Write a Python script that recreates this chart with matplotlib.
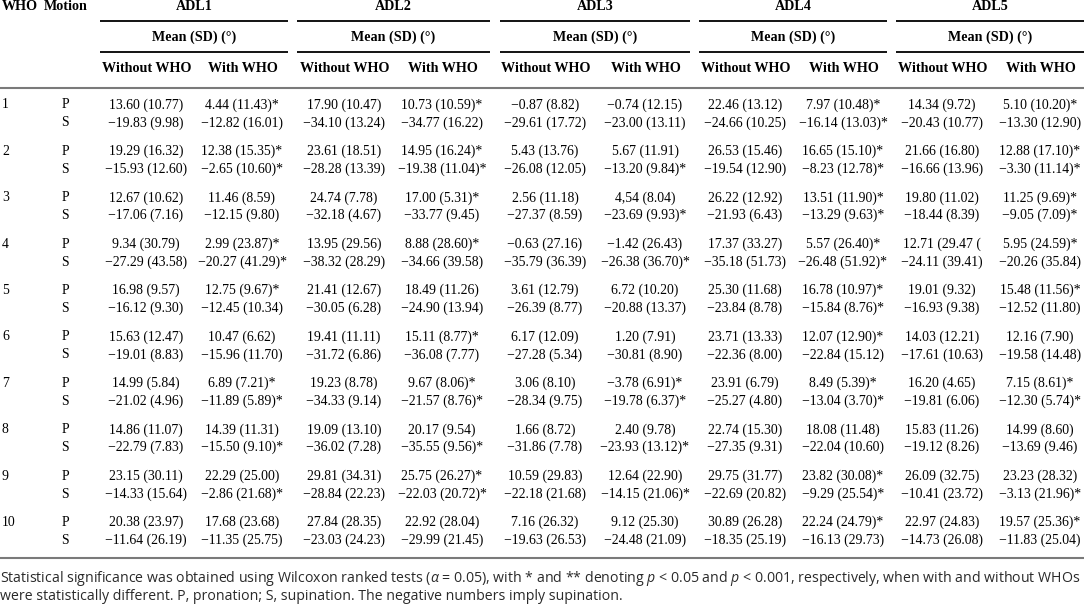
import matplotlib.pyplot as plt

plt.rcParams['mathtext.fontset'] = 'custom'
plt.rcParams['mathtext.rm'] = 'Open Sans'
plt.rcParams['mathtext.it'] = 'Open Sans:italic'

# table data: per ADL, each row = (P without, P with, S without, S with)
who = [str(i) for i in range(1, 11)]
adl_names = ["ADL1", "ADL2", "ADL3", "ADL4", "ADL5"]

adl1 = [
    ("13.60 (10.77)", "4.44 (11.43)*", "\u221219.83 (9.98)", "\u221212.82 (16.01)"),
    ("19.29 (16.32)", "12.38 (15.35)*", "\u221215.93 (12.60)", "\u22122.65 (10.60)*"),
    ("12.67 (10.62)", "11.46 (8.59)", "\u221217.06 (7.16)", "\u221212.15 (9.80)"),
    ("9.34 (30.79)", "2.99 (23.87)*", "\u221227.29 (43.58)", "\u221220.27 (41.29)*"),
    ("16.98 (9.57)", "12.75 (9.67)*", "\u221216.12 (9.30)", "\u221212.45 (10.34)"),
    ("15.63 (12.47)", "10.47 (6.62)", "\u221219.01 (8.83)", "\u221215.96 (11.70)"),
    ("14.99 (5.84)", "6.89 (7.21)*", "\u221221.02 (4.96)", "\u221211.89 (5.89)*"),
    ("14.86 (11.07)", "14.39 (11.31)", "\u221222.79 (7.83)", "\u221215.50 (9.10)*"),
    ("23.15 (30.11)", "22.29 (25.00)", "\u221214.33 (15.64)", "\u22122.86 (21.68)*"),
    ("20.38 (23.97)", "17.68 (23.68)", "\u221211.64 (26.19)", "\u221211.35 (25.75)"),
]
adl2 = [
    ("17.90 (10.47)", "10.73 (10.59)*", "\u221234.10 (13.24)", "\u221234.77 (16.22)"),
    ("23.61 (18.51)", "14.95 (16.24)*", "\u221228.28 (13.39)", "\u221219.38 (11.04)*"),
    ("24.74 (7.78)", "17.00 (5.31)*", "\u221232.18 (4.67)", "\u221233.77 (9.45)"),
    ("13.95 (29.56)", "8.88 (28.60)*", "\u221238.32 (28.29)", "\u221234.66 (39.58)"),
    ("21.41 (12.67)", "18.49 (11.26)", "\u221230.05 (6.28)", "\u221224.90 (13.94)"),
    ("19.41 (11.11)", "15.11 (8.77)*", "\u221231.72 (6.86)", "\u221236.08 (7.77)"),
    ("19.23 (8.78)", "9.67 (8.06)*", "\u221234.33 (9.14)", "\u221221.57 (8.76)*"),
    ("19.09 (13.10)", "20.17 (9.54)", "\u221236.02 (7.28)", "\u221235.55 (9.56)*"),
    ("29.81 (34.31)", "25.75 (26.27)*", "\u221228.84 (22.23)", "\u221222.03 (20.72)*"),
    ("27.84 (28.35)", "22.92 (28.04)", "\u221223.03 (24.23)", "\u221229.99 (21.45)"),
]
adl3 = [
    ("\u22120.87 (8.82)", "\u22120.74 (12.15)", "\u221229.61 (17.72)", "\u221223.00 (13.11)"),
    ("5.43 (13.76)", "5.67 (11.91)", "\u221226.08 (12.05)", "\u221213.20 (9.84)*"),
    ("2.56 (11.18)", "4,54 (8.04)", "\u221227.37 (8.59)", "\u221223.69 (9.93)*"),
    ("\u22120.63 (27.16)", "\u22121.42 (26.43)", "\u221235.79 (36.39)", "\u221226.38 (36.70)*"),
    ("3.61 (12.79)", "6.72 (10.20)", "\u221226.39 (8.77)", "\u221220.88 (13.37)"),
    ("6.17 (12.09)", "1.20 (7.91)", "\u221227.28 (5.34)", "\u221230.81 (8.90)"),
    ("3.06 (8.10)", "\u22123.78 (6.91)*", "\u221228.34 (9.75)", "\u221219.78 (6.37)*"),
    ("1.66 (8.72)", "2.40 (9.78)", "\u221231.86 (7.78)", "\u221223.93 (13.12)*"),
    ("10.59 (29.83)", "12.64 (22.90)", "\u221222.18 (21.68)", "\u221214.15 (21.06)*"),
    ("7.16 (26.32)", "9.12 (25.30)", "\u221219.63 (26.53)", "\u221224.48 (21.09)"),
]
adl4 = [
    ("22.46 (13.12)", "7.97 (10.48)*", "\u221224.66 (10.25)", "\u221216.14 (13.03)*"),
    ("26.53 (15.46)", "16.65 (15.10)*", "\u221219.54 (12.90)", "\u22128.23 (12.78)*"),
    ("26.22 (12.92)", "13.51 (11.90)*", "\u221221.93 (6.43)", "\u221213.29 (9.63)*"),
    ("17.37 (33.27)", "5.57 (26.40)*", "\u221235.18 (51.73)", "\u221226.48 (51.92)*"),
    ("25.30 (11.68)", "16.78 (10.97)*", "\u221223.84 (8.78)", "\u221215.84 (8.76)*"),
    ("23.71 (13.33)", "12.07 (12.90)*", "\u221222.36 (8.00)", "\u221222.84 (15.12)"),
    ("23.91 (6.79)", "8.49 (5.39)*", "\u221225.27 (4.80)", "\u221213.04 (3.70)*"),
    ("22.74 (15.30)", "18.08 (11.48)", "\u221227.35 (9.31)", "\u221222.04 (10.60)"),
    ("29.75 (31.77)", "23.82 (30.08)*", "\u221222.69 (20.82)", "\u22129.29 (25.54)*"),
    ("30.89 (26.28)", "22.24 (24.79)*", "\u221218.35 (25.19)", "\u221216.13 (29.73)"),
]
adl5 = [
    ("14.34 (9.72)", "5.10 (10.20)*", "\u221220.43 (10.77)", "\u221213.30 (12.90)"),
    ("21.66 (16.80)", "12.88 (17.10)*", "\u221216.66 (13.96)", "\u22123.30 (11.14)*"),
    ("19.80 (11.02)", "11.25 (9.69)*", "\u221218.44 (8.39)", "\u22129.05 (7.09)*"),
    ("12.71 (29.47 (", "5.95 (24.59)*", "\u221224.11 (39.41)", "\u221220.26 (35.84)"),
    ("19.01 (9.32)", "15.48 (11.56)*", "\u221216.93 (9.38)", "\u221212.52 (11.80)"),
    ("14.03 (12.21)", "12.16 (7.90)", "\u221217.61 (10.63)", "\u221219.58 (14.48)"),
    ("16.20 (4.65)", "7.15 (8.61)*", "\u221219.81 (6.06)", "\u221212.30 (5.74)*"),
    ("15.83 (11.26)", "14.99 (8.60)", "\u221219.12 (8.26)", "\u221213.69 (9.46)"),
    ("26.09 (32.75)", "23.23 (28.32)", "\u221210.41 (23.72)", "\u22123.13 (21.96)*"),
    ("22.97 (24.83)", "19.57 (25.36)*", "\u221214.73 (26.08)", "\u221211.83 (25.04)"),
]
tables = [adl1, adl2, adl3, adl4, adl5]

footnote1 = ("Statistical significance was obtained using Wilcoxon ranked tests ($\\alpha$ = 0.05), "
             "with * and ** denoting $p$ < 0.05 and $p$ < 0.001, respectively, when with and without WHOs")
footnote2 = "were statistically different. P, pronation; S, supination. The negative numbers imply supination."

# layout in pixels
W, H = 1084, 610
col_x = [146, 242, 344, 442, 545, 645, 745, 843, 942, 1040]
grp_lines = [(100, 288), (297, 490), (500, 690), (699, 887), (896, 1084)]
row0 = 105
pitch = 46.4
sub = 17.8
serif = "Liberation Serif"
fs = 9.9
hfs = 10.2

fig = plt.figure(figsize=(W / 100, H / 100), dpi=100)
ax = fig.add_axes([0, 0, 1, 1])
ax.set_xlim(0, W)
ax.set_ylim(H, 0)
ax.axis("off")

def txt(x, y, s, ha="center", bold=False, size=fs):
    ax.text(x, y, s, ha=ha, va="center", fontsize=size, family=serif,
            fontweight="bold" if bold else "normal", color="black")

txt(2, 7, "WHO", ha="left", bold=True, size=hfs)
txt(44, 7, "Motion", ha="left", bold=True, size=hfs)

for g, name in enumerate(adl_names):
    x0, x1 = grp_lines[g]
    cx = (x0 + x1) / 2
    txt(cx, 7, name, bold=True, size=hfs)
    ax.plot([x0, x1], [21, 21], color="black", lw=1.3, solid_capstyle="butt")
    txt(cx, 37, "Mean (SD) (\u00b0)", bold=True, size=hfs)
    ax.plot([x0, x1], [52, 52], color="black", lw=1.3, solid_capstyle="butt")
    txt(col_x[2 * g] + 1, 69, "Without WHO", bold=True, size=hfs)
    txt(col_x[2 * g + 1] + 1, 69, "With WHO", bold=True, size=hfs)

ax.plot([0, W], [88, 88], color="#7a7a7a", lw=1.5)
ax.plot([0, W], [558, 558], color="#7a7a7a", lw=1.5)

for i, w in enumerate(who):
    yp = row0 + i * pitch
    ys = yp + sub
    txt(2, yp, w, ha="left")
    txt(65, yp, "P")
    txt(65, ys, "S")
    for g, tab in enumerate(tables):
        p_wo, p_w, s_wo, s_w = tab[i]
        txt(col_x[2 * g], yp, p_wo)
        txt(col_x[2 * g + 1], yp, p_w)
        txt(col_x[2 * g], ys, s_wo)
        txt(col_x[2 * g + 1], ys, s_w)

ax.text(0, 578, footnote1, ha="left", va="center", fontsize=10.2, family="Open Sans",
        color="#2a2a2a")
ax.text(0, 597, footnote2, ha="left", va="center", fontsize=10.2, family="Open Sans",
        color="#2a2a2a")

fig.savefig("out.png", dpi=100)
